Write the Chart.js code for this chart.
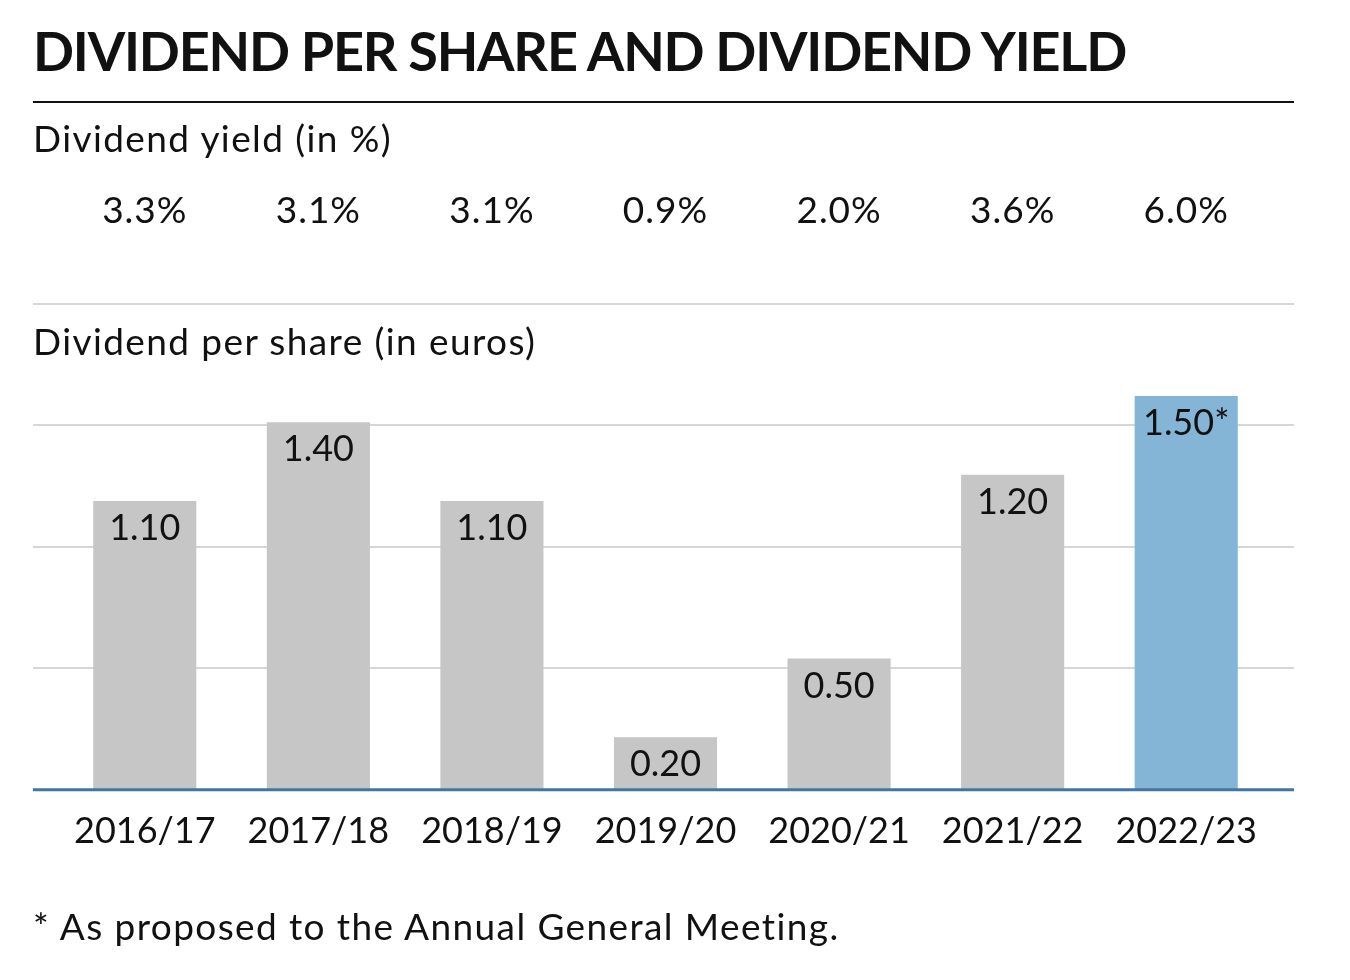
<!DOCTYPE html>
<html>
<head>
<meta charset="utf-8">
<script src="https://cdn.jsdelivr.net/npm/chart.js@4.4.1/dist/chart.umd.min.js"></script>
<style>
    body { margin: 0; background: #fff; font-family: Lato, "Noto Sans", sans-serif; color: #111; }
    #wrap { position: relative; width: 1350px; height: 980px; overflow: hidden; }
    #chart { position: absolute; left: 0; top: 0; }
    .txt { position: absolute; left: 33px; white-space: nowrap; line-height: 1.2; }
    #title { top: 19px; font-size: 54px; font-weight: 700; letter-spacing: -1.2px; }
    #rule { position: absolute; left: 33px; top: 101px; width: 1261px; height: 2px; background: #111; }
    .head { font-size: 37px; letter-spacing: 1.4px; }
</style>
</head>
<body>
<div id="wrap">
    <canvas id="chart" width="1350" height="980"></canvas>
    <div id="title" class="txt">DIVIDEND PER SHARE AND DIVIDEND YIELD</div>
    <div id="rule"></div>
    <div class="txt head" style="top:116px">Dividend yield (in %)</div>
    <div class="txt head" style="top:319px">Dividend per share (in euros)</div>
    <div class="txt head" style="top:904px">* As proposed to the Annual General Meeting.</div>
</div>
<script>
const years = ["2016/17", "2017/18", "2018/19", "2019/20", "2020/21", "2021/22", "2022/23"];
const dividends = [1.10, 1.40, 1.10, 0.20, 0.50, 1.20, 1.50];
const dividendLabels = ["1.10", "1.40", "1.10", "0.20", "0.50", "1.20", "1.50*"];
const yields = ["3.3%", "3.1%", "3.1%", "0.9%", "2.0%", "3.6%", "6.0%"];

const yMax = 1.85;
const gridCount = 4;
const fontFam = 'Lato, "Noto Sans", sans-serif';

// gridlines run wider than the bars, so they are drawn here
const gridPlugin = {
    id: 'fullGrid',
    beforeDatasetsDraw(chart) {
        const ctx = chart.ctx;
        const y = chart.scales.y;
        ctx.save();
        ctx.strokeStyle = '#d6d6d6';
        ctx.lineWidth = 2;
        y.ticks.forEach(t => {
            if (t.value === 0) return;
            const py = Math.round(y.getPixelForValue(t.value));
            ctx.beginPath();
            ctx.moveTo(33, py);
            ctx.lineTo(1294, py);
            ctx.stroke();
        });
        ctx.restore();
    },
    afterDatasetsDraw(chart) {
        const ctx = chart.ctx;
        const x = chart.scales.x;
        const y = chart.scales.y;
        ctx.save();
        // baseline
        ctx.strokeStyle = '#3f76a2';
        ctx.lineWidth = 3;
        const by = y.getPixelForValue(0);
        ctx.beginPath();
        ctx.moveTo(33, by);
        ctx.lineTo(1294, by);
        ctx.stroke();

        ctx.fillStyle = '#111';
        ctx.font = '36px ' + fontFam;
        ctx.textAlign = 'center';
        ctx.textBaseline = 'alphabetic';
        const meta = chart.getDatasetMeta(0);
        meta.data.forEach((bar, i) => {
            ctx.fillText(dividendLabels[i], bar.x, bar.y + 39);
        });
        // yield row above the bars
        ctx.font = '37px ' + fontFam;
        ctx.letterSpacing = '1px';
        yields.forEach((v, i) => {
            ctx.fillText(v, x.getPixelForValue(i), 223);
        });
        ctx.restore();
    }
};

new Chart(document.getElementById('chart'), {
    type: 'bar',
    data: {
        labels: years,
        datasets: [{
            data: dividends,
            backgroundColor: dividends.map((d, i) => i === dividends.length - 1 ? '#84b5d6' : '#c6c6c6'),
            borderWidth: 0,
            barPercentage: 0.594,
            categoryPercentage: 1.0
        }]
    },
    options: {
        responsive: false,
        devicePixelRatio: 1,
        animation: false,
        layout: { padding: { left: 58, right: 77, top: 304, bottom: 107 } },
        plugins: { legend: { display: false }, tooltip: { enabled: false } },
        scales: {
            x: {
                grid: { display: false, drawTicks: false },
                border: { display: false },
                ticks: { color: '#111', font: { family: fontFam, size: 36 }, padding: 20, maxRotation: 0 }
            },
            y: {
                display: false,
                min: 0,
                max: yMax,
                afterBuildTicks(scale) {
                    scale.ticks = [];
                    for (let i = 0; i <= gridCount; i++) scale.ticks.push({ value: yMax * i / gridCount });
                }
            }
        }
    },
    plugins: [gridPlugin]
});
</script>
</body>
</html>
